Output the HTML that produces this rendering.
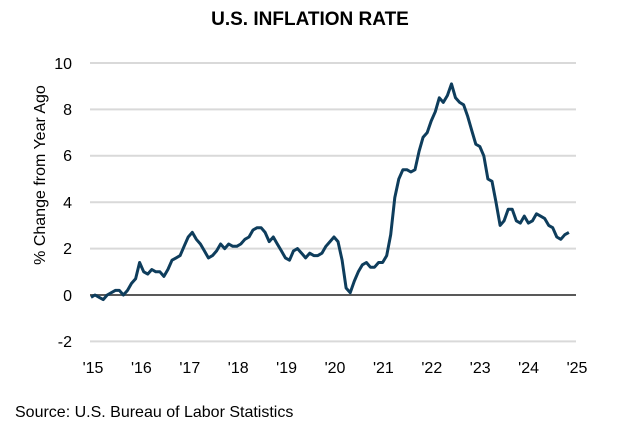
<!DOCTYPE html>
<html><head><meta charset="utf-8"><style>
body{margin:0;background:#fff;width:621px;height:433px;overflow:hidden;font-family:"Liberation Sans",Arial,sans-serif}
</style></head><body>
<svg width="621" height="433" xmlns="http://www.w3.org/2000/svg" font-family="Liberation Sans, Arial, sans-serif">
<text x="310" y="25" text-anchor="middle" font-size="19" font-weight="bold" fill="#000">U.S. INFLATION RATE</text>
<g stroke="#d9d9d9" stroke-width="2">
<line x1="90" x2="576" y1="63" y2="63"/><line x1="90" x2="576" y1="109.4" y2="109.4"/>
<line x1="90" x2="576" y1="155.8" y2="155.8"/><line x1="90" x2="576" y1="202.2" y2="202.2"/>
<line x1="90" x2="576" y1="248.6" y2="248.6"/><line x1="90" x2="576" y1="341.4" y2="341.4"/>
</g>
<line x1="90" x2="576" y1="295" y2="295" stroke="#595959" stroke-width="2"/>
<g font-size="16" fill="#000" text-anchor="end">
<text x="72" y="69">10</text><text x="72" y="115">8</text><text x="72" y="161">6</text>
<text x="72" y="208">4</text><text x="72" y="254">2</text><text x="72" y="301">0</text><text x="72" y="347">-2</text>
</g>
<text transform="translate(45,175) rotate(-90)" text-anchor="middle" font-size="16" fill="#000">% Change from Year Ago</text>
<g font-size="16" fill="#000" text-anchor="middle" id="xl"></g>
<polyline id="ln" fill="none" stroke="#0e3d5c" stroke-width="3" stroke-linejoin="round"/>
<text x="15" y="417" font-size="16" fill="#000">Source: U.S. Bureau of Labor Statistics</text>
</svg>
<script>
var d=[-0.1,0.0,-0.1,-0.2,0.0,0.1,0.2,0.2,0.0,0.2,0.5,0.7,
1.4,1.0,0.9,1.1,1.0,1.0,0.8,1.1,1.5,1.6,1.7,2.1,
2.5,2.7,2.4,2.2,1.9,1.6,1.7,1.9,2.2,2.0,2.2,2.1,
2.1,2.2,2.4,2.5,2.8,2.9,2.9,2.7,2.3,2.5,2.2,1.9,
1.6,1.5,1.9,2.0,1.8,1.6,1.8,1.7,1.7,1.8,2.1,2.3,
2.5,2.3,1.5,0.3,0.1,0.6,1.0,1.3,1.4,1.2,1.2,1.4,
1.4,1.7,2.6,4.2,5.0,5.4,5.4,5.3,5.4,6.2,6.8,7.0,
7.5,7.9,8.5,8.3,8.6,9.1,8.5,8.3,8.2,7.7,7.1,6.5,
6.4,6.0,5.0,4.9,4.0,3.0,3.2,3.7,3.7,3.2,3.1,3.4,
3.1,3.2,3.5,3.4,3.3,3.0,2.9,2.5,2.4,2.6,2.7];
var p=d.map(function(v,i){return (91+i*48.6/12).toFixed(1)+","+(295-v*23.2).toFixed(1)}).join(" ");
document.getElementById("ln").setAttribute("points",p);
var g=document.getElementById("xl"),s="";
for(var i=0;i<=10;i++){s+='<text x="'+(93+i*48.4)+'" y="373">\''+(15+i)+'</text>';}
g.innerHTML=s;
</script>
</body></html>
